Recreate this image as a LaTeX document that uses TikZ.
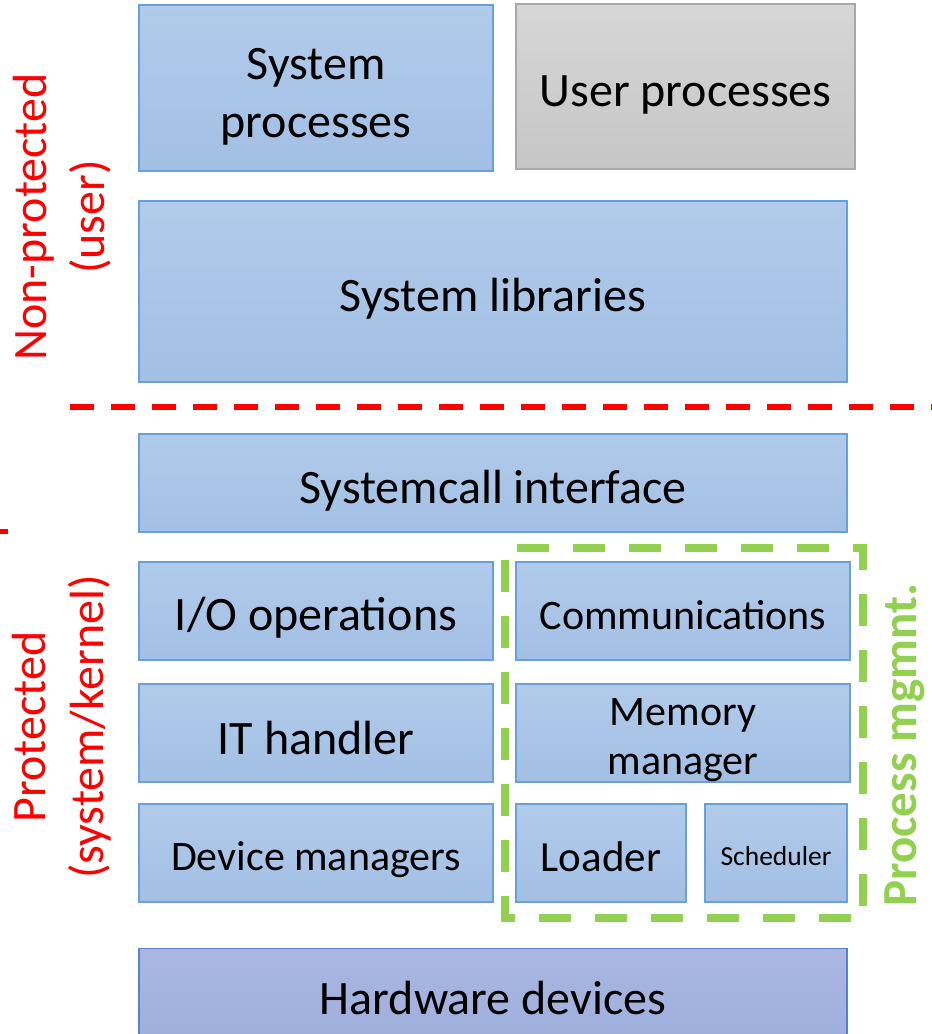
\documentclass[tikz,border=0pt]{standalone}
\usepackage{fontspec}
\setmainfont{Carlito}
\begin{document}
\begin{tikzpicture}[x=1pt,y=-1pt,
  blk/.style={draw=boxline,line width=1.2pt,top color=boxtop,bottom color=boxbot,inner sep=0pt},
  grayblk/.style={blk,draw=grayline,top color=graytop,bottom color=graybot},
  hwblk/.style={blk,draw=hwline,top color=hwtop,bottom color=hwbot},
  txt/.style={inner sep=0pt,align=center,font=\fontsize{48}{58}\selectfont},
  redlbl/.style={text=red,rotate=90,align=center,font=\fontsize{48}{58}\selectfont},
  grnlbl/.style={text=pgreen,rotate=90,align=center,font=\bfseries\fontsize{49}{58}\selectfont}]
\definecolor{boxtop}{HTML}{B1CBEA}
\definecolor{boxbot}{HTML}{A2BFE4}
\definecolor{boxline}{HTML}{6A9FD8}
\definecolor{graytop}{HTML}{D6D6D6}
\definecolor{graybot}{HTML}{C6C6C6}
\definecolor{grayline}{HTML}{A8A8A8}
\definecolor{hwtop}{HTML}{AAB7E1}
\definecolor{hwbot}{HTML}{9DAEDB}
\definecolor{hwline}{HTML}{5A7FCC}
\definecolor{pgreen}{HTML}{92D050}
\useasboundingbox (0,0) rectangle (932,1034);
\begin{scope}
\clip (0,0) rectangle (932,1034);
\node[blk,minimum width=354,minimum height=166] (sysproc) at (316,88) {};
\node[grayblk,minimum width=339,minimum height=165] (userproc) at (685.5,86.5) {};
\node[blk,minimum width=708,minimum height=181] (syslib) at (493,291.5) {};
\node[blk,minimum width=708,minimum height=98] (syscall) at (493,483) {};
\node[blk,minimum width=354,minimum height=98] (io) at (316,611) {};
\node[blk,minimum width=354,minimum height=98] (ith) at (316,733) {};
\node[blk,minimum width=354,minimum height=98] (dev) at (316,853) {};
\node[blk,minimum width=334,minimum height=98] (comm) at (683,611) {};
\node[blk,minimum width=334,minimum height=98] (mem) at (683,733) {};
\node[blk,minimum width=170,minimum height=98] (load) at (601,853) {};
\node[blk,minimum width=142,minimum height=98] (sched) at (776,853) {};
\node[hwblk,minimum width=708,minimum height=100,anchor=north] (hw) at (493,948) {};
\node[txt] (sysproct) at ([yshift=-9]sysproc.center) {System\\processes};
\node[txt] (userproct) at ([yshift=-8]userproc.center) {User processes};
\node[txt] (syslibt) at ([yshift=-7]syslib.center) {System libraries};
\node[txt] (syscallt) at ([yshift=-8]syscall.center) {Systemcall interface};
\node[txt] (iot) at ([yshift=-7]io.center) {I/O operations};
\node[txt] (itht) at ([yshift=-5]ith.center) {IT handler};
\node[txt,font=\fontsize{42}{50}\selectfont] (devt) at ([yshift=-7]dev.center) {Device managers};
\node[txt,font=\fontsize{42}{50}\selectfont] (commt) at ([yshift=-4]comm.center) {Communications};
\node[txt,font=\fontsize{42}{49}\selectfont] (memt) at ([yshift=-7]mem.center) {Memory\\manager};
\node[txt,font=\fontsize{43}{50}\selectfont] (loadt) at ([yshift=-4]load.center) {Loader};
\node[txt,font=\fontsize{27.5}{32}\selectfont] (schedt) at ([yshift=-3]sched.center) {Scheduler};
\node[txt] (hwt) at ([yshift=1]hw.center) {Hardware devices};
\draw[red,line width=6,dash pattern=on 24 off 17] (70,407) -- (932,407);
\draw[red,line width=5] (0,531.5) -- (8,531.5);
\end{scope}
\draw[pgreen,line width=7.5,dash pattern=on 32 off 24,dash phase=44] (505,548) -- (863,548) -- (863,918) -- (505,918) -- cycle;
\node[redlbl] (nonprot) at (62,217) {Non-protected\\(user)};
\node[redlbl] (prot) at (62,727) {Protected\\(system/kernel)};
\node[grnlbl] (pm) at (905,745) {Process mgmnt.};
\end{tikzpicture}
\end{document}
